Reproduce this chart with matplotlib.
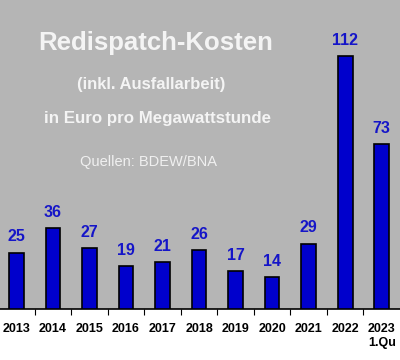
import matplotlib.pyplot as plt

# === Data: Redispatch-Kosten in Euro pro MWh ===
years = ["2013", "2014", "2015", "2016", "2017", "2018", "2019", "2020", "2021", "2022", "2023\n1.Qu"]
costs = [25, 36, 27, 19, 21, 26, 17, 14, 29, 112, 73]

plt.rcParams['font.family'] = ['Liberation Sans', 'DejaVu Sans']

fig = plt.figure(figsize=(4, 3.6), dpi=100)
fig.patch.set_facecolor('white')
ax = fig.add_axes([0, 51 / 360, 1, 309 / 360])
ax.set_facecolor('#b5b5b5')

x = range(len(years))
ax.bar(x, costs, width=0.4, color='#0000cc', edgecolor='black', linewidth=1.2, zorder=3)
for xi, v in zip(x, costs):
    ax.text(xi, v + 3.6, str(v), ha='center', va='bottom', color='#1515c8',
            fontsize=11.5, fontweight='bold')

ax.set_xlim(-0.45, 10.5)
ax.set_ylim(0, 137)

# ticks between the categories, labels centred below the bars
ax.set_xticks([i + 0.5 for i in range(len(years) - 1)])
ax.set_xticklabels([])
ax.set_xticks(list(x), minor=True)
ax.set_xticklabels(years, minor=True, fontsize=9, fontweight='bold', linespacing=1.25)
ax.tick_params(axis='x', which='major', direction='out', length=4, width=0.8, color='black')
ax.tick_params(axis='x', which='minor', length=0, pad=10)
ax.set_yticks([])
for s in ['top', 'left', 'right']:
    ax.spines[s].set_visible(False)
ax.spines['bottom'].set_linewidth(1.2)

# titles in the plot area
ax.text(156 / 400, 1 - 43 / 309, "Redispatch-Kosten", transform=ax.transAxes, ha='center', va='center',
        color='#f4f4f4', fontsize=18.5, fontweight='bold')
ax.text(151 / 400, 1 - 85 / 309, "(inkl. Ausfallarbeit)", transform=ax.transAxes, ha='center', va='center',
        color='#f4f4f4', fontsize=12, fontweight='bold')
ax.text(157 / 400, 1 - 118 / 309, "in Euro pro Megawattstunde", transform=ax.transAxes, ha='center', va='center',
        color='#f4f4f4', fontsize=12.2, fontweight='bold')
ax.text(149 / 400, 1 - 162 / 309, "Quellen: BDEW/BNA", transform=ax.transAxes, ha='center', va='center',
        color='#f0f0f0', fontsize=10.5)

fig.savefig("out.png", dpi=100)
